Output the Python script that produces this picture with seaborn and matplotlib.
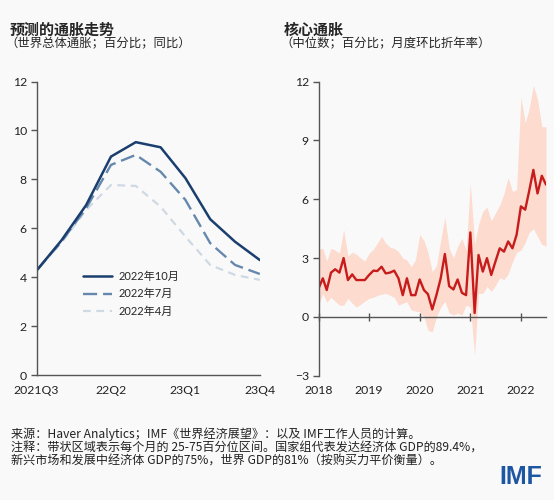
import pandas as pd
import numpy as np
import matplotlib
matplotlib.use('Agg')
import matplotlib.pyplot as plt
import seaborn as sns

# left panel: WEO forecasts of world headline inflation
quarters = ['2021Q3', '21Q4', '22Q1', '22Q2', '22Q3', '22Q4', '23Q1', '23Q2', '23Q3', '23Q4']
quarter_ticks = ['2021Q3', '22Q2', '23Q1', '23Q4']
weo_oct = [4.27, 5.50, 6.95, 8.93, 9.52, 9.31, 8.05, 6.37, 5.45, 4.70]
weo_jul = [4.27, 5.45, 6.82, 8.59, 9.00, 8.31, 7.16, 5.39, 4.50, 4.13]
weo_apr = [4.27, 5.40, 6.75, 7.77, 7.73, 6.88, 5.66, 4.50, 4.09, 3.89]
series_names = ['2022年10月', '2022年7月', '2022年4月']

# right panel: core inflation, monthly Jan 2018 - Jul 2022
months = pd.date_range('2018-01-01', periods=55, freq='MS')
core_median = [1.45, 1.97, 1.37, 2.26, 2.43, 2.26, 3.00, 1.88, 2.17, 1.88, 1.88, 1.88,
               2.14, 2.36, 2.34, 2.56, 2.22, 2.26, 2.36, 1.97, 1.11, 1.97, 1.11, 1.11,
               1.91, 1.37, 1.16, 0.38, 1.11, 1.97, 3.21, 1.57, 1.40, 1.91, 1.23, 1.11,
               4.31, 0.20, 3.16, 2.31, 3.00, 2.14, 2.82, 3.50, 3.33, 3.85, 3.50, 4.19,
               5.64, 5.47, 6.40, 7.50, 6.30, 7.20, 6.75]
core_p75 = [3.45, 3.50, 2.85, 3.50, 3.40, 3.25, 4.45, 3.10, 3.30, 3.20, 3.00, 2.85,
            3.25, 3.45, 3.76, 4.10, 3.76, 3.55, 3.50, 3.33, 3.00, 2.90, 2.56, 2.90,
            4.20, 3.90, 3.30, 2.30, 2.60, 3.90, 5.10, 3.50, 3.00, 3.60, 4.00, 3.40,
            6.80, 3.70, 4.70, 5.40, 5.60, 4.90, 5.30, 5.70, 6.30, 7.10, 6.40, 6.50,
            11.2, 9.90, 10.6, 11.8, 11.1, 9.70, 9.70]
core_p25 = [0.60, 1.20, 0.75, 1.00, 0.80, 0.60, 0.60, 0.95, 0.70, 0.50, 0.65, 0.80,
            0.95, 1.00, 1.10, 1.15, 1.20, 1.10, 1.00, 0.60, 0.70, 0.77, 0.35, 0.30,
            0.26, 0.00, -0.68, -0.77, 0.00, 0.50, 0.80, 0.20, 0.10, 0.20, 0.10, 0.60,
            0.50, -1.95, 1.20, 1.20, 1.55, 1.30, 1.60, 2.00, 1.90, 2.20, 2.80, 3.30,
            3.40, 3.80, 4.30, 4.50, 4.10, 3.70, 3.60]
years = pd.date_range('2018-01-01', periods=5, freq='YS')

bg = '#f9f9f9'
axis_col = '#555555'

sns.set_style('ticks')
plt.rcParams['font.family'] = ['Lato', 'Noto Sans CJK SC', 'DejaVu Sans']
plt.rcParams['axes.edgecolor'] = axis_col
plt.rcParams['xtick.color'] = axis_col
plt.rcParams['ytick.color'] = axis_col
plt.rcParams['xtick.labelcolor'] = '#222222'
plt.rcParams['ytick.labelcolor'] = '#222222'

fig = plt.figure(figsize=(5.54, 5.0), dpi=100, facecolor=bg)
ax1 = fig.add_axes([0.066, 0.25, 0.403, 0.587], facecolor=bg)
ax2 = fig.add_axes([0.575, 0.2486, 0.4105, 0.588], facecolor=bg)

# ---- left chart
qx = np.arange(len(quarters))
sns.lineplot(x=qx, y=weo_apr, ax=ax1, color='#cfd9e4', lw=1.6,
             linestyle=(0, (3.5, 2.5)), label=series_names[2])
sns.lineplot(x=qx, y=weo_jul, ax=ax1, color='#6688ad', lw=1.7,
             linestyle=(0, (6, 2.5)), label=series_names[1])
sns.lineplot(x=qx, y=weo_oct, ax=ax1, color='#1a3f6e', lw=1.8, label=series_names[0])

ax1.set_xlim(0, len(quarters) - 1)
ax1.set_ylim(0, 12)
ax1.set_yticks(range(0, 13, 2))
ax1.set_xticks([quarters.index(q) if q in quarters else 0 for q in quarter_ticks])
ax1.set_xticklabels(quarter_ticks)
ax1.tick_params(axis='y', length=4, width=1, labelsize=8.8, pad=3)
ax1.tick_params(axis='x', length=0, labelsize=8.8, pad=7)
sns.despine(ax=ax1)
for s in ['left', 'bottom']:
    ax1.spines[s].set_linewidth(1)

h, l = ax1.get_legend_handles_labels()
ax1.legend(h[::-1], l[::-1], frameon=False, loc='upper left', bbox_to_anchor=(0.165, 0.39),
           fontsize=8, handlelength=2.6, handletextpad=0.6, labelspacing=0.62)

# ---- right chart
ax2.fill_between(months, core_p25, core_p75, color='#fddbcf', lw=0)
sns.lineplot(x=months, y=core_median, ax=ax2, color='#c71c1c', lw=1.7)
ax2.set_xlim(months[0], pd.Timestamp('2022-07-01'))
ax2.set_ylim(-3, 12)
ax2.set_yticks(range(-3, 13, 3))
ax2.set_xticks(years)
ax2.set_xticklabels([str(d.year) for d in years])
ax2.set_xlabel('')
ax2.set_ylabel('')
sns.despine(ax=ax2)
ax2.spines['bottom'].set_position(('data', 0))
ax2.spines['bottom'].set_linewidth(1)
ax2.spines['left'].set_linewidth(1)
ax2.tick_params(axis='y', length=4, width=1, labelsize=8.8, pad=3)
ax2.tick_params(axis='x', direction='inout', length=6, width=1, labelsize=8.8, pad=46)

# ---- titles and notes
fig.text(0.017, 0.94, '预测的通胀走势', fontsize=10.8, fontweight='bold', va='center',
         family=['Noto Sans CJK SC'])
fig.text(0.01, 0.912, '（世界总体通胀；百分比；同比）', fontsize=8.9, va='center',
         family=['Noto Sans CJK SC'])
fig.text(0.513, 0.94, '核心通胀', fontsize=10.8, fontweight='bold', va='center',
         family=['Noto Sans CJK SC'])
fig.text(0.506, 0.912, '（中位数；百分比；月度环比折年率）', fontsize=8.9, va='center',
         family=['Noto Sans CJK SC'])

notes = ['来源：Haver Analytics；IMF《世界经济展望》：以及 IMF工作人员的计算。',
         '注释：带状区域表示每个月的 25-75百分位区间。国家组代表发达经济体 GDP的89.4%，',
         '新兴市场和发展中经济体 GDP的75%，世界 GDP的81%（按购买力平价衡量）。']
for k, line in enumerate(notes):
    fig.text(0.02, 0.131 - k * 0.027, line, fontsize=8.7, va='center', color='#222222',
             family=['Noto Sans CJK SC', 'DejaVu Sans'])

fig.text(0.978, 0.045, 'IMF', fontsize=18, fontweight='bold', color='#1d56a3',
         ha='right', va='center', family=['Liberation Sans'])

fig.savefig('out.png', dpi=100, facecolor=bg)
